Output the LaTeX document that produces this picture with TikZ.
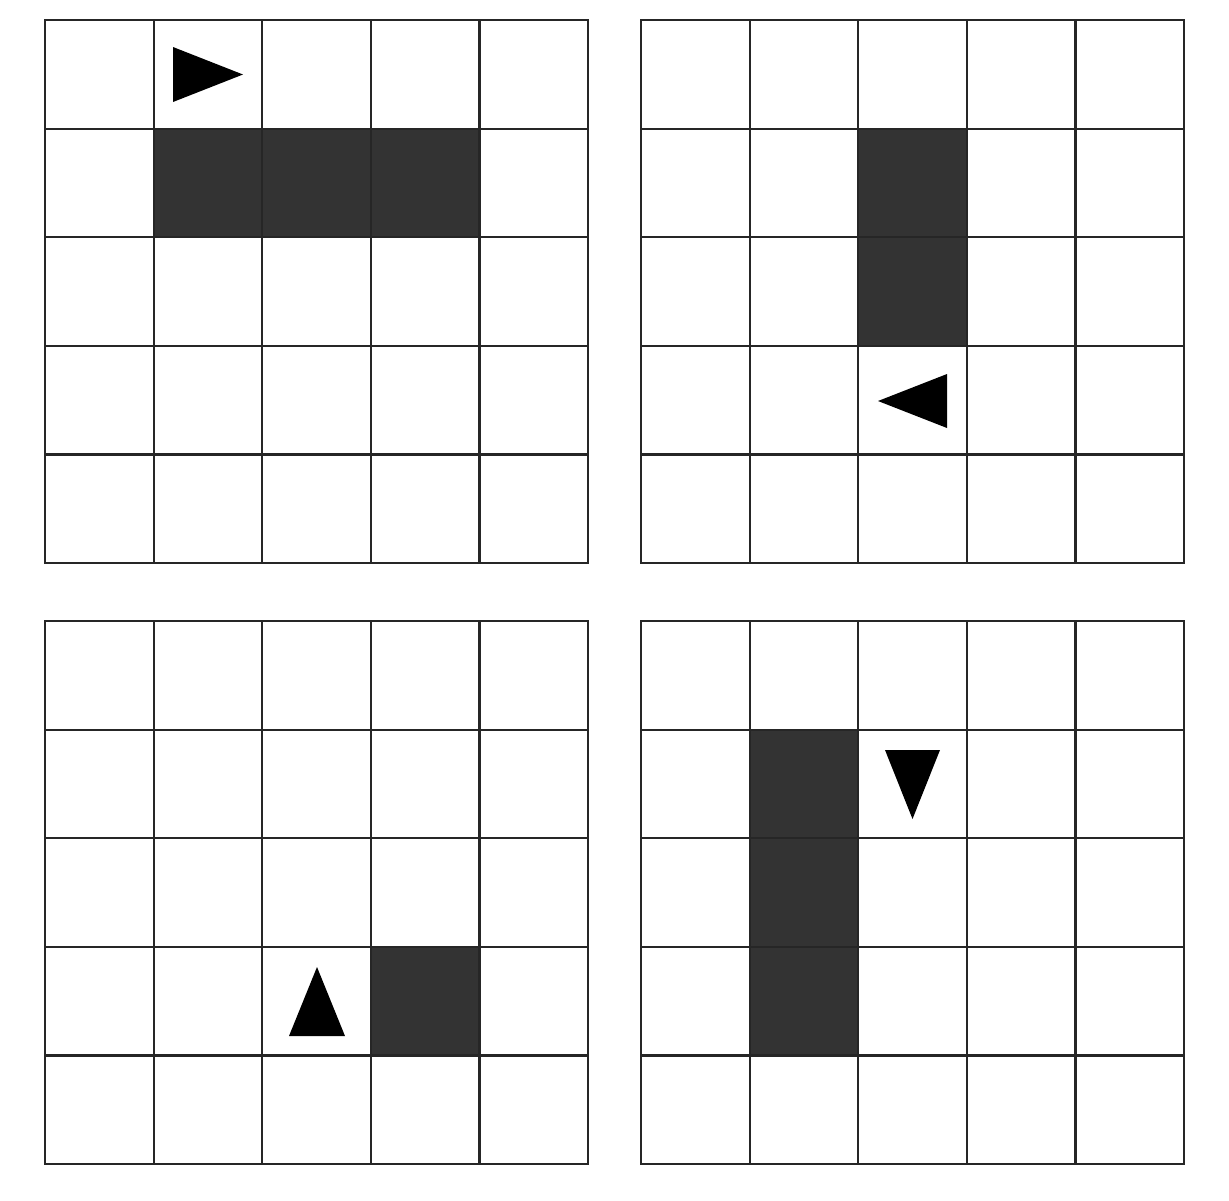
\documentclass[tikz,border=0pt]{standalone}
\begin{document}
\begin{tikzpicture}[x=1pt,y=-1pt,
  gridline/.style={draw=black!85,line width=2.2pt},
  cellfill/.style={fill=black!80},
  tri/.style={fill=black}]
\useasboundingbox (0,0) rectangle (1229,1200);
\fill[white] (0,0) rectangle (1229,1200);
\def\cs{108.6}
% shaded cells
% TL: row 1, cols 1-3
\fill[cellfill] (45+\cs,20+\cs) rectangle (45+4*\cs,20+2*\cs);
% TR: col 2, rows 1-2
\fill[cellfill] (641+2*\cs,20+\cs) rectangle (641+3*\cs,20+3*\cs);
% BL: col 3, row 3
\fill[cellfill] (45+3*\cs,621+3*\cs) rectangle (45+4*\cs,621+4*\cs);
% BR: col 1, rows 1-3
\fill[cellfill] (641+\cs,621+\cs) rectangle (641+2*\cs,621+4*\cs);
% grids
\foreach \ox/\oy in {45/20, 641/20, 45/621, 641/621}{
  \foreach \i in {0,...,5}{
    \draw[gridline] (\ox+\i*\cs,\oy) -- (\ox+\i*\cs,\oy+5*\cs);
    \draw[gridline] (\ox,\oy+\i*\cs) -- (\ox+5*\cs,\oy+\i*\cs);
  }
  \draw[gridline,line join=miter] (\ox,\oy) rectangle (\ox+5*\cs,\oy+5*\cs);
}
% triangles
\fill[tri] (173,47) -- (243,74.5) -- (173,102) -- cycle;
\fill[tri] (947,374) -- (878,401) -- (947,428) -- cycle;
\fill[tri] (289,1036) -- (317,967) -- (345,1036) -- cycle;
\fill[tri] (885,750) -- (940,750) -- (912.5,819) -- cycle;
\end{tikzpicture}
\end{document}
